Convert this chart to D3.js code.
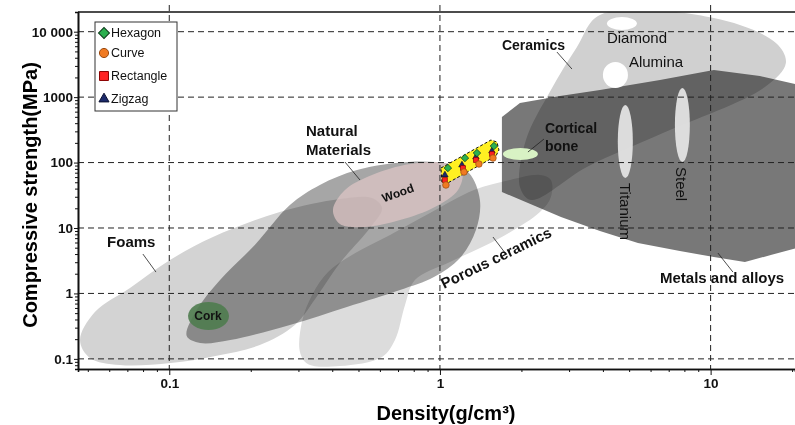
<!DOCTYPE html>
<html>
<head>
<meta charset="utf-8">
<script src="https://cdn.jsdelivr.net/npm/d3@7"></script>
<style>
  body { margin: 0; background: #fff; }
  svg { display: block; font-family: "Liberation Sans", Arial, sans-serif; }
</style>
</head>
<body>
<div id="chart"></div>
<script>
// material regions, points are [density g/cm3, compressive strength MPa]
const foams = [[0.0468,0.194],[0.0531,0.519],[0.0716,1.21],[0.1006,3.24],[0.145,7.28],[0.256,17.5],[0.427,27.7],[0.561,28.7],[0.611,20.2],[0.551,10.0],[0.427,2.91],[0.354,0.945],[0.291,0.329],[0.216,0.163],[0.148,0.111],[0.101,0.0863],[0.0657,0.0804],[0.0509,0.103]];
const naturalMaterials = [[0.116,0.223],[0.125,0.519],[0.154,1.6],[0.207,5.49],[0.279,22.4],[0.36,45.4],[0.494,76.9],[0.762,102],[1.08,95],[1.28,69.2],[1.405,26.8],[1.358,9.31],[1.186,3.48],[0.95,1.78],[0.712,1.127],[0.453,0.62],[0.279,0.329],[0.168,0.194],[0.13,0.1745]];
const porousCeramics = [[0.304,0.127],[0.309,0.366],[0.337,0.945],[0.386,2.12],[0.473,3.86],[0.654,7.81],[0.919,16.9],[1.335,38],[1.814,54.1],[2.341,64.5],[2.57,54.1],[2.57,29.7],[2.341,17.5],[1.666,7.03],[1.089,3.02],[0.808,1.6],[0.743,0.665],[0.682,0.194],[0.611,0.107],[0.427,0.0777],[0.325,0.0834]];
const metals = [[1.694,497],[1.975,813],[2.775,1040],[3.9,1284],[6.5,1826],[10.28,2596],[15.2,2102],[21.4,1531],[21.4,5.12],[13.39,3.02],[10.28,3.6],[7.7,4.45],[5.39,5.89],[3.9,8.99],[2.8,14.7],[1.694,35.5]];
const ceramics = [[3.9,17990],[10.28,16190],[17.43,6714],[18.97,3321],[15.87,1427],[6.665,282.8],[3.49,85.5],[2.169,26.8],[1.975,42.3],[2.078,221],[2.57,1284],[3.208,5833]];
const wood = [[0.4025,18.8],[0.4457,38],[0.561,64.5],[0.7746,95],[1.043,98.4],[1.206,71.7],[1.166,38],[0.958,20.9],[0.712,13.2],[0.528,10.35],[0.427,11.5]];

// small materials as [density range], [strength range]
const spotNames = ["Cork", "Cortical bone", "Diamond", "Alumina", "Titanium", "Steel"];
const spotDensity = [[0.1173,0.1662],[1.709,2.301],[4.14,5.34],[4.0,4.95],[4.54,5.16],[7.38,8.38]];
const spotStrength = [[0.276,0.739],[109.4,166.8],[10610,16760],[1378,3440],[58.0,757],[101.9,1378]];

// this work: band and the four structures
const workBand = [[1.0085,82.5],[1.543,221],[1.624,206],[1.652,155.5],[1.61,125.9],[1.052,47],[1.017,50.4]];
const hexagonDensity = [1.07,1.237,1.37,1.583];
const hexagonStrength = [82.5,117.3,139.9,178.9];
const curveDensity = [1.052,1.227,1.393,1.57];
const curveStrength = [45.4,71.7,95,117.3];
const rectangleDensity = [1.043,1.216,1.358,1.556];
const rectangleStrength = [54.1,82.5,109.4,135];
const zigzagDensity = [1.043,1.206,1.358,1.556];
const zigzagStrength = [64.5,91.7,121.5,150.1];

const xTicks = [0.1, 1, 10];
const xTickLabels = ["0.1", "1", "10"];
const yTicks = [0.1, 1, 10, 100, 1000, 10000];
const yTickLabels = ["0.1", "1", "10", "100", "1000", "10 000"];

const labelText = ["Foams", "Natural|Materials", "Ceramics", "Cortical|bone", "Porous ceramics", "Metals and alloys", "Wood", "Cork", "Diamond", "Alumina", "Titanium", "Steel"];
const labelAt = [[0.0589,5.12],[0.32,254],[1.694,5248],[2.443,282.8],[1.035,1.167],[6.5,1.442],[0.6995,34.2],[0.139,0.4515],[4.14,6714],[4.99,2886],[4.865,48.7],[7.834,85.5]];
const leaders = [[[0.0799,4.0],[0.0893,2.12]],[[0.4457,102],[0.5066,54.1]],[[2.705,4891],[3.074,2689]],[[2.423,229],[2.114,145]],[[1.57,7.28],[1.753,4.0]],[[10.64,4.145],[12.09,2.12]]];

const width = 795, height = 425;
const plotLeft = 78, plotRight = 795, plotTop = 12, plotBottom = 369;

const x = d3.scaleLog().domain([0.046, 20.5]).range([plotLeft, plotRight]);
const y = d3.scaleLog().domain([0.07, 20000]).range([plotBottom, plotTop]);

const svg = d3.select("#chart").append("svg")
  .attr("width", width)
  .attr("height", height);

svg.append("rect").attr("width", width).attr("height", height).attr("fill", "#fff");

svg.append("defs").append("clipPath").attr("id", "plot-clip")
  .append("rect")
  .attr("x", plotLeft).attr("y", plotTop)
  .attr("width", plotRight - plotLeft).attr("height", plotBottom - plotTop);

const blob = d3.line()
  .x((d) => x(d[0]))
  .y((d) => y(d[1]))
  .curve(d3.curveCatmullRomClosed.alpha(0.5));

const poly = d3.line()
  .x((d) => x(d[0]))
  .y((d) => y(d[1]))
  .curve(d3.curveLinearClosed);

const plot = svg.append("g").attr("clip-path", "url(#plot-clip)");

// grey regions multiply so overlaps get darker
[
  [foams, "#d3d3d3", blob],
  [porousCeramics, "#dcdcdc", blob],
  [naturalMaterials, "#a6a6a6", blob],
  [metals, "#787878", poly],
  [ceramics, "#d0d0d0", blob],
].forEach(([pts, fill, gen]) => {
  plot.append("path")
    .attr("d", gen(pts))
    .attr("fill", fill)
    .style("mix-blend-mode", "multiply");
});

plot.append("path")
  .attr("d", blob(wood))
  .attr("fill", "#dcc4c4")
  .attr("opacity", 0.75);

const spotFill = ["#4f7c4f", "#d8f2c4", "#ffffff", "#ffffff", "#e6e6e6", "#e6e6e6"];
const spotOpacity = [0.9, 1, 1, 1, 0.92, 0.92];
plot.selectAll(".spot")
  .data(spotNames)
  .enter()
  .append("ellipse")
  .attr("class", "spot")
  .attr("cx", (d, i) => (x(spotDensity[i][0]) + x(spotDensity[i][1])) / 2)
  .attr("cy", (d, i) => (y(spotStrength[i][0]) + y(spotStrength[i][1])) / 2)
  .attr("rx", (d, i) => (x(spotDensity[i][1]) - x(spotDensity[i][0])) / 2)
  .attr("ry", (d, i) => (y(spotStrength[i][0]) - y(spotStrength[i][1])) / 2)
  .attr("fill", (d, i) => spotFill[i])
  .attr("opacity", (d, i) => spotOpacity[i]);

// grid
const grid = svg.append("g")
  .attr("stroke", "#222")
  .attr("stroke-width", 1)
  .attr("stroke-dasharray", "6,4");

grid.selectAll(".hgrid")
  .data(yTicks)
  .enter()
  .append("line")
  .attr("x1", plotLeft).attr("x2", plotRight)
  .attr("y1", (d) => y(d)).attr("y2", (d) => y(d));

grid.selectAll(".vgrid")
  .data(xTicks)
  .enter()
  .append("line")
  .attr("x1", (d) => x(d)).attr("x2", (d) => x(d))
  .attr("y1", 5).attr("y2", plotBottom);

// axes
const xMinor = x.ticks().filter((t) => !xTicks.includes(t));
const yMinor = y.ticks().filter((t) => !yTicks.includes(t));

function styleAxis(g) {
  g.selectAll("path").attr("stroke", "#111").attr("stroke-width", 1.6);
  g.selectAll("line").attr("stroke", "#111").attr("stroke-width", 1);
  g.selectAll("text")
    .attr("fill", "#111")
    .style("font-size", "13.5px")
    .style("font-weight", "bold")
    .style("font-family", '"Liberation Sans", Arial, sans-serif');
}

svg.append("g")
  .attr("transform", `translate(0,${plotBottom})`)
  .call(d3.axisBottom(x).tickValues(xMinor).tickSize(3).tickFormat(""))
  .call(styleAxis);

svg.append("g")
  .attr("transform", `translate(0,${plotBottom})`)
  .call(d3.axisBottom(x).tickValues(xTicks).tickSize(6).tickSizeOuter(0).tickPadding(3)
    .tickFormat((d, i) => xTickLabels[i]))
  .call(styleAxis);

svg.append("g")
  .attr("transform", `translate(${plotLeft},0)`)
  .call(d3.axisLeft(y).tickValues(yMinor).tickSize(3).tickFormat(""))
  .call(styleAxis);

svg.append("g")
  .attr("transform", `translate(${plotLeft},0)`)
  .call(d3.axisLeft(y).tickValues(yTicks).tickSize(4).tickSizeOuter(0).tickPadding(1)
    .tickFormat((d, i) => yTickLabels[i]))
  .call(styleAxis);

svg.append("line")
  .attr("x1", plotLeft).attr("x2", plotRight)
  .attr("y1", plotTop).attr("y2", plotTop)
  .attr("stroke", "#111").attr("stroke-width", 1.6);

svg.append("text")
  .attr("transform", "translate(30,195) rotate(-90)")
  .attr("text-anchor", "middle")
  .attr("dominant-baseline", "central")
  .style("font-size", "20px")
  .style("font-weight", "bold")
  .text("Compressive strength(MPa)");

svg.append("text")
  .attr("x", 446).attr("y", 420)
  .attr("text-anchor", "middle")
  .style("font-size", "20px")
  .style("font-weight", "bold")
  .text("Density(g/cm³)");

// leader lines
svg.append("g").selectAll("line")
  .data(leaders)
  .enter()
  .append("line")
  .attr("x1", (d) => x(d[0][0])).attr("y1", (d) => y(d[0][1]))
  .attr("x2", (d) => x(d[1][0])).attr("y2", (d) => y(d[1][1]))
  .attr("stroke", "#222")
  .attr("stroke-width", 0.8);

// band of this work
svg.append("path")
  .attr("d", poly(workBand))
  .attr("fill", "#fff022")
  .attr("stroke", "#111")
  .attr("stroke-width", 1)
  .attr("stroke-dasharray", "3,2");

const series = [
  { dens: zigzagDensity, str: zigzagStrength, type: d3.symbolTriangle, size: 18, fill: "#1c2a6a", stroke: "#0a1030", rot: 0 },
  { dens: rectangleDensity, str: rectangleStrength, type: d3.symbolSquare, size: 24, fill: "#ff2222", stroke: "#8a0000", rot: 0 },
  { dens: curveDensity, str: curveStrength, type: d3.symbolCircle, size: 34, fill: "#f07a22", stroke: "#9a4a10", rot: 0 },
  { dens: hexagonDensity, str: hexagonStrength, type: d3.symbolSquare, size: 28, fill: "#2bb04f", stroke: "#0b3a1a", rot: 45 },
];

series.forEach((s) => {
  svg.append("g").selectAll("path")
    .data(s.dens)
    .enter()
    .append("path")
    .attr("d", d3.symbol().type(s.type).size(s.size))
    .attr("transform", (d, i) => `translate(${x(d)},${y(s.str[i])}) rotate(${s.rot})`)
    .attr("fill", s.fill)
    .attr("stroke", s.stroke)
    .attr("stroke-width", 0.7);
});

// labels
const labelSize = [15, 15, 14, 14, 15, 15, 12, 12, 15, 15, 15, 15];
const labelBold = [true, true, true, true, true, true, true, true, false, false, false, false];
const labelRotate = [0, 0, 0, 0, -26, 0, -20, 0, 0, 0, 90, 90];
const labelCenter = [false, false, false, false, false, false, true, true, false, false, false, false];

labelText.forEach((t, i) => {
  const px = x(labelAt[i][0]);
  const py = y(labelAt[i][1]);
  const txt = svg.append("text")
    .attr("transform", `translate(${px},${py}) rotate(${labelRotate[i]})`)
    .attr("fill", "#111")
    .style("font-size", labelSize[i] + "px")
    .style("font-weight", labelBold[i] ? "bold" : "normal");
  if (labelCenter[i]) {
    txt.attr("text-anchor", "middle").attr("dominant-baseline", "central");
  }
  if (labelRotate[i] === 90) {
    txt.attr("dominant-baseline", "central");
  }
  t.split("|").forEach((line, j) => {
    txt.append("tspan")
      .attr("x", 0)
      .attr("dy", j === 0 ? 0 : "1.25em")
      .text(line);
  });
});

// legend
const legendNames = ["Hexagon", "Curve", "Rectangle", "Zigzag"];
const legendY = [33, 53, 76, 99];
const legendSym = [
  { type: d3.symbolSquare, size: 60, fill: "#2bb04f", stroke: "#0b3a1a", rot: 45 },
  { type: d3.symbolCircle, size: 66, fill: "#f07a22", stroke: "#9a4a10", rot: 0 },
  { type: d3.symbolSquare, size: 80, fill: "#ff2222", stroke: "#8a0000", rot: 0 },
  { type: d3.symbolTriangle, size: 44, fill: "#1c2a6a", stroke: "#0a1030", rot: 0 },
];

const legend = svg.append("g");
legend.append("rect")
  .attr("x", 95).attr("y", 22)
  .attr("width", 82).attr("height", 89)
  .attr("fill", "#fff")
  .attr("stroke", "#333")
  .attr("stroke-width", 1);

legendNames.forEach((name, i) => {
  const s = legendSym[i];
  legend.append("path")
    .attr("d", d3.symbol().type(s.type).size(s.size))
    .attr("transform", `translate(104,${legendY[i]}) rotate(${s.rot})`)
    .attr("fill", s.fill)
    .attr("stroke", s.stroke)
    .attr("stroke-width", 1);
  legend.append("text")
    .attr("x", 111).attr("y", legendY[i])
    .attr("dominant-baseline", "central")
    .attr("fill", "#111")
    .style("font-size", "12.5px")
    .text(name);
});
</script>
</body>
</html>
